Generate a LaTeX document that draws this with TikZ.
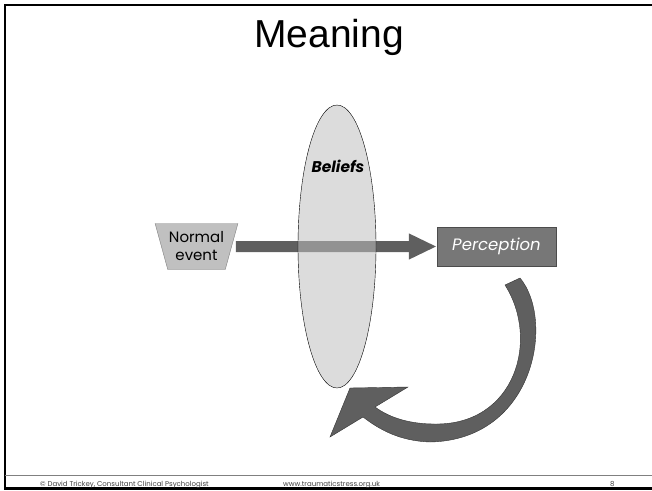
\documentclass[tikz,border=0pt]{standalone}
\usepackage{fontspec}
\setmainfont{Liberation Sans}
\newfontfamily\gothic{Poppins}
\usetikzlibrary{shapes.geometric,arrows.meta}
\definecolor{shaftgray}{HTML}{5F5F5F}
\definecolor{boxgray}{HTML}{777777}
\definecolor{trapgray}{HTML}{C0C0C0}
\definecolor{lensgray}{HTML}{BFBFBF}
\begin{document}
\begin{tikzpicture}[x=1pt,y=-1pt,
event/.style={trapezium,trapezium stretches=true,shape border rotate=180,trapezium angle=67.5,minimum width=83pt,minimum height=46pt,fill=trapgray,draw=gray,inner sep=0pt,align=center,font=\gothic\fontsize{15}{18}\selectfont},
percept/.style={rectangle,minimum width=119pt,minimum height=39pt,fill=boxgray,draw=black!70,text=white,font=\gothic\itshape\fontsize{16.5}{19}\selectfont},
lens/.style={ellipse,minimum width=78pt,minimum height=283pt,fill=lensgray,fill opacity=0.54,draw=black,thin},
flow/.style={line width=11pt,draw=shaftgray,-{Triangle[length=28pt,width=24pt]}},
foot/.style={anchor=base west,inner sep=0pt,text=black!75,font=\gothic\fontsize{7}{8}\selectfont}]
\useasboundingbox(0,0)rectangle(652,490);
\draw[line width=2.5pt](652,5)--(5,5)--(5,488.5)--(652,488.5);
\draw[gray,thin](5,475.5)--(652,475.5);
\node[font=\fontsize{39}{42}\selectfont](title)at(329,37){Meaning};
\node[event](ne)at(196.5,246.5){Normal\\event};
\node[percept](pc)at(496.5,246.5){Perception};
\draw[flow]([xshift=4pt]ne.east)--(pc.west);
\node[lens](bl)at(337,246.5){};
\node[font=\gothic\bfseries\itshape\fontsize{15.5}{18}\selectfont](bt)at(338,166){Beliefs};
\filldraw[fill=shaftgray,draw=black!80,thin](520,278)..controls(555,320)and(535,440)..(430,442)..controls(400,441)and(380,430)..(363,417)--(330,437)--(350,388)--(408,387)--(375,407)..controls(390,418)and(410,424)..(435,424)..controls(515,425)and(540,340)..(505,285)--cycle;
\node[foot](f1)at(40,486){\textcopyright{} David Trickey, Consultant Clinical Psychologist};
\node[foot](f2)at(283,486){www.traumaticstress.org.uk};
\node[foot](f3)at(610,486){8};
\end{tikzpicture}
\end{document}
